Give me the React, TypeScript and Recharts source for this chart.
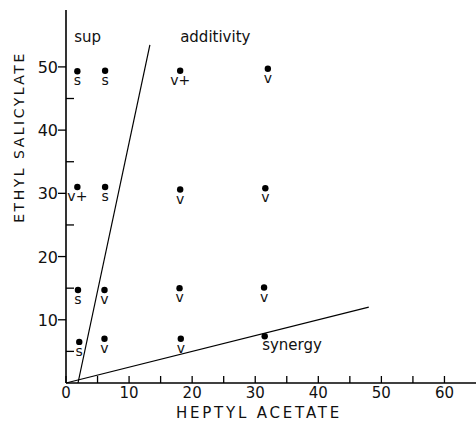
import { Label, ReferenceLine, Scatter, ScatterChart, XAxis, YAxis } from "recharts";

const FONT = "DejaVu Sans";

// observed mixtures (heptyl acetate, ethyl salicylate) and their response code
const mixX = [1.8, 6.2, 18.1, 32.0, 1.8, 6.2, 18.1, 31.6, 1.9, 6.1, 18.0, 31.4, 2.1, 6.1, 18.2, 31.5];
const mixY = [49.3, 49.4, 49.4, 49.7, 31.0, 31.0, 30.6, 30.8, 14.7, 14.7, 15.0, 15.1, 6.5, 7.0, 7.0, 7.4];
const mixCode = ["s", "s", "v+", "v", "v+", "s", "v", "v", "s", "v", "v", "v", "s", "v", "v", ""];

// boundary lines
const supLine = [
  { x: 1.9, y: 0 },
  { x: 13.3, y: 53.5 },
];
const synLine = [
  { x: 0, y: 0 },
  { x: 48, y: 12 },
];

// region names
const regionText = ["sup", "additivity", "synergy"];
const regionX = [1.3, 18.1, 31.1];
const regionY = [53.9, 53.9, 5.2];

const xTicks = [0, 5, 10, 15, 20, 25, 30, 35, 40, 45, 50, 55, 60];
const yTicks = [5, 10, 15, 20, 25, 30, 35, 40, 45, 50];

const points = mixX.map((x, i) => ({ x, y: mixY[i], code: mixCode[i] }));
const regions = regionText.map((text, i) => ({ x: regionX[i], y: regionY[i], text }));

function XTick({ x, y, payload }: any) {
  const v = payload.value;
  return (
    <g>
      <line x1={x} x2={x} y1={y} y2={y - 7} stroke="#000" strokeWidth={1.3} />
      {v % 10 === 0 && (
        <text x={x} y={y + 15} textAnchor="middle" fontFamily={FONT} fontSize={15} fill="#111">
          {v}
        </text>
      )}
    </g>
  );
}

function YTick({ x, y, payload }: any) {
  const v = payload.value;
  const major = v % 10 === 0;
  return (
    <g>
      <line
        x1={x}
        x2={major ? x - 8 : x + 8}
        y1={y}
        y2={y}
        stroke="#000"
        strokeWidth={1.3}
      />
      {major && (
        <text x={x - 8} y={y + 6} textAnchor="end" fontFamily={FONT} fontSize={16} fill="#111">
          {v}
        </text>
      )}
    </g>
  );
}

function MixMark({ cx, cy, payload }: any) {
  return (
    <g>
      <circle cx={cx} cy={cy} r={3.2} fill="#000" />
      {payload.code && (
        <text x={cx} y={cy + 14} textAnchor="middle" fontFamily={FONT} fontSize={14} fill="#111">
          {payload.code}
        </text>
      )}
    </g>
  );
}

function RegionText({ cx, cy, payload }: any) {
  return (
    <text x={cx} y={cy} fontFamily={FONT} fontSize={15} fill="#111">
      {payload.text}
    </text>
  );
}

export default function App() {
  return (
    <div style={{ position: "absolute", left: 0, top: 0, background: "#fff" }}>
      <ScatterChart width={476} height={421} margin={{ top: 10, right: 0, bottom: 0, left: 0 }}>
        <XAxis
          type="number"
          dataKey="x"
          domain={[0, 65]}
          ticks={xTicks}
          interval={0}
          height={38}
          tickSize={0}
          tickMargin={0}
          tickLine={false}
          tick={<XTick />}
          axisLine={{ stroke: "#000", strokeWidth: 1.6 }}
        >
          <Label
            content={({ viewBox }: any) => (
              <text
                x={viewBox.x + 193}
                y={viewBox.y + 35}
                textAnchor="middle"
                fontFamily={FONT}
                fontSize={15}
                letterSpacing={2.8}
                fill="#111"
              >
                HEPTYL  ACETATE
              </text>
            )}
          />
        </XAxis>
        <YAxis
          type="number"
          dataKey="y"
          domain={[0, 59]}
          ticks={yTicks}
          interval={0}
          width={66}
          tickSize={0}
          tickMargin={0}
          tickLine={false}
          tick={<YTick />}
          axisLine={{ stroke: "#000", strokeWidth: 1.6 }}
        >
          <Label
            content={({ viewBox }: any) => (
              <text
                x={24}
                y={viewBox.y + 127}
                transform={`rotate(-90, 24, ${viewBox.y + 127})`}
                textAnchor="middle"
                fontFamily={FONT}
                fontSize={14}
                letterSpacing={2.5}
                fill="#111"
              >
                ETHYL  SALICYLATE
              </text>
            )}
          />
        </YAxis>
        <ReferenceLine segment={supLine} stroke="#000" strokeWidth={1.2} ifOverflow="visible" />
        <ReferenceLine segment={synLine} stroke="#000" strokeWidth={1.2} ifOverflow="visible" />
        <Scatter data={points} shape={<MixMark />} isAnimationActive={false} />
        <Scatter data={regions} shape={<RegionText />} isAnimationActive={false} />
      </ScatterChart>
    </div>
  );
}
